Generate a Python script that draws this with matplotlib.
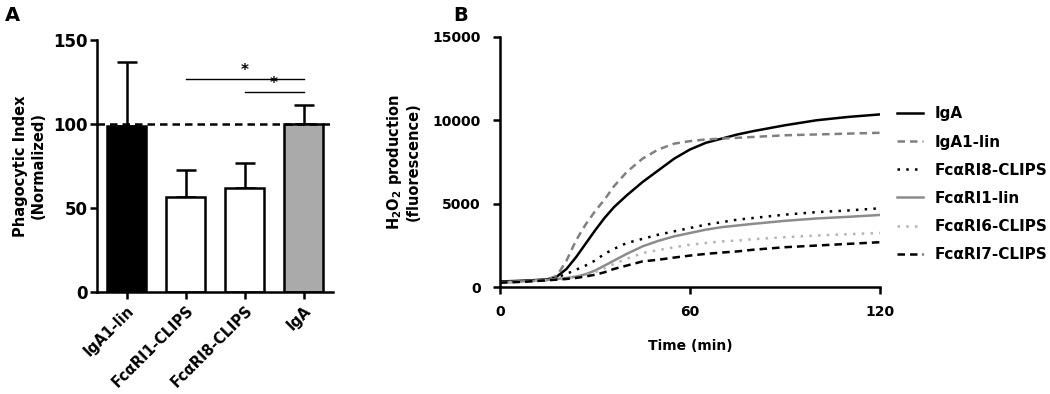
import matplotlib
matplotlib.use("Agg")
import matplotlib.pyplot as plt

plt.rcParams['font.family'] = ['DejaVu Sans']
plt.rcParams['font.weight'] = 'bold'
plt.rcParams['mathtext.fontset'] = 'custom'
plt.rcParams['mathtext.rm'] = 'DejaVu Sans:bold'
plt.rcParams['mathtext.bf'] = 'DejaVu Sans:bold'
plt.rcParams['mathtext.default'] = 'rm'

# Panel A data
groups = ["IgA1-lin", "FcαRI1-CLIPS", "FcαRI8-CLIPS", "IgA"]
phago_mean = [99, 56.5, 62, 100]
phago_err = [38, 16, 15, 11]
bar_colors = ["black", "white", "white", "#aaaaaa"]

# Panel B data
time_min = [0, 5, 10, 15, 18, 21, 24, 27, 30, 33, 36, 40, 45, 50,
            55, 60, 65, 70, 75, 80, 90, 100, 110, 120]
iga = [350, 380, 420, 480, 650, 1100, 1800, 2600, 3400, 4150, 4800, 5500, 6300, 7000,
       7700, 8250, 8650, 8900, 9150, 9350, 9700, 10000, 10200, 10350]
iga1_lin = [300, 330, 380, 450, 700, 1600, 2800, 3750, 4550, 5250, 6050, 6900, 7700, 8250,
            8600, 8750, 8850, 8900, 8950, 9000, 9100, 9150, 9200, 9250]
fca8_clips = [300, 330, 380, 440, 600, 800, 1050, 1300, 1600, 2000, 2300, 2650, 2900, 3150,
              3350, 3550, 3750, 3900, 4050, 4150, 4350, 4500, 4600, 4730]
fca1_lin = [300, 330, 380, 440, 500, 560, 640, 780, 1000, 1300, 1600, 2000, 2450, 2780,
            3050, 3250, 3450, 3600, 3700, 3800, 3980, 4120, 4220, 4330]
fca6_clips = [300, 330, 380, 440, 480, 530, 600, 720, 900, 1150, 1400, 1700, 2050, 2230,
              2400, 2550, 2650, 2750, 2800, 2880, 3000, 3100, 3180, 3250]
fca7_clips = [280, 310, 360, 420, 460, 500, 560, 650, 750, 900, 1100, 1300, 1550, 1650,
              1780, 1900, 2000, 2080, 2150, 2250, 2400, 2500, 2600, 2700]

fig = plt.figure(figsize=(10.5, 3.94), dpi=100)

# ---- Panel A ----
axA = fig.add_axes([0.0924, 0.259, 0.2248, 0.6396])
xpos = list(range(len(groups)))
axA.bar(xpos, phago_mean, width=0.65, color=bar_colors, edgecolor="black",
        linewidth=1.8, zorder=2)
axA.errorbar(xpos, phago_mean, yerr=[[0] * len(groups), phago_err], fmt="none",
             ecolor="black", elinewidth=1.8, capsize=7, capthick=1.8, zorder=1)
axA.axhline(100, color="black", linestyle=(0, (3, 2)), linewidth=1.8, zorder=3)

# significance bars
axA.plot([1, 3], [127, 127], color="black", linewidth=1)
axA.plot([2, 3], [119, 119], color="black", linewidth=1)
axA.text(2, 127.5, "*", ha="center", va="bottom", fontsize=11)
axA.text(2.5, 119.5, "*", ha="center", va="bottom", fontsize=11)

axA.set_xlim(-0.5, 3.5)
axA.set_ylim(0, 150)
axA.set_yticks([0, 50, 100, 150])
axA.set_xticks(xpos)
axA.set_xticklabels(groups, rotation=45, ha="right", rotation_mode="anchor",
                    fontsize=10.5)
axA.set_ylabel("Phagocytic Index\n(Normalized)", fontsize=10.5, fontweight="bold",
               labelpad=5)
for lab in axA.get_yticklabels():
    lab.set_fontsize(12)
axA.tick_params(axis="y", pad=2)
axA.tick_params(axis="x", pad=3)

# ---- Panel B ----
axB = fig.add_axes([0.4762, 0.2708, 0.3619, 0.636])
axB.plot(time_min, iga, color="black", linewidth=1.8, label="IgA")
axB.plot(time_min, iga1_lin, color="#808080", linewidth=1.8,
         linestyle=(0, (3, 2)), label="IgA1-lin")
axB.plot(time_min, fca8_clips, color="black", linewidth=1.8,
         linestyle=(0, (1, 2.5)), label="FcαRI8-CLIPS")
axB.plot(time_min, fca1_lin, color="#8c8c8c", linewidth=1.8, label="FcαRI1-lin")
axB.plot(time_min, fca6_clips, color="#b4b4b4", linewidth=1.8,
         linestyle=(0, (1, 2.5)), label="FcαRI6-CLIPS")
axB.plot(time_min, fca7_clips, color="black", linewidth=1.8,
         linestyle=(0, (3, 2)), label="FcαRI7-CLIPS")

axB.set_xlim(0, 120)
axB.set_ylim(0, 15000)
axB.set_xticks([0, 60, 120])
axB.set_yticks([0, 5000, 10000, 15000])
axB.set_xlabel("Time (min)", fontsize=10, fontweight="bold", labelpad=14)
axB.set_ylabel("H$_2$O$_2$ production\n(fluorescence)", fontsize=10.5,
               fontweight="bold", labelpad=8)
for lab in axB.get_xticklabels() + axB.get_yticklabels():
    lab.set_fontsize(10)
axB.tick_params(axis="y", pad=9)
axB.tick_params(axis="x", pad=8)
fig.legend(handles=axB.get_lines(), loc="upper left", bbox_to_anchor=(0.854, 0.73),
           bbox_transform=fig.transFigure, frameon=False, fontsize=11,
           handlelength=1.7, handletextpad=0.75, labelspacing=0.86,
           borderpad=0, borderaxespad=0)

for ax in (axA, axB):
    for side in ("top", "right"):
        ax.spines[side].set_visible(False)
    for side in ("left", "bottom"):
        ax.spines[side].set_linewidth(1.8)
    ax.tick_params(direction="out", length=5, width=1.8)

fig.text(0.005, 0.985, "A", fontsize=14, fontweight="bold", va="top")
fig.text(0.432, 0.985, "B", fontsize=14, fontweight="bold", va="top")

fig.savefig("out.png", dpi=100)
